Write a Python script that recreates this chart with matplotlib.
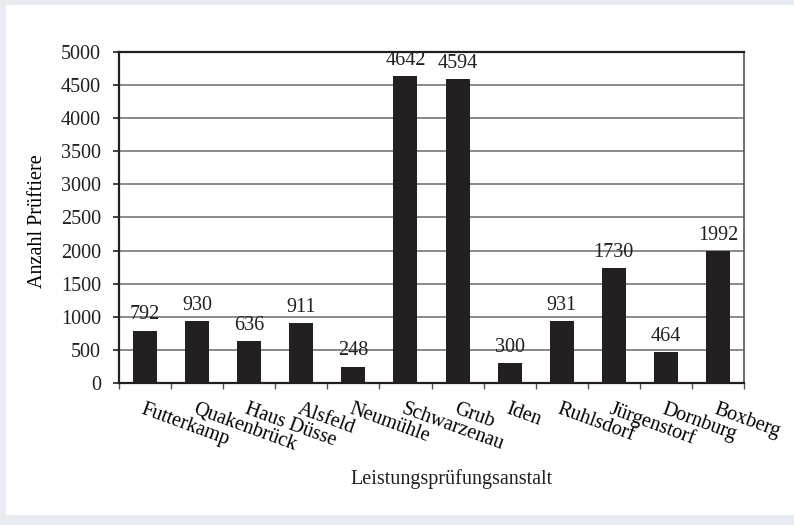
import matplotlib.pyplot as plt
from matplotlib.patches import Rectangle

stations = ['Futterkamp', 'Quakenbrück', 'Haus Düsse', 'Alsfeld', 'Neumühle',
            'Schwarzenau', 'Grub', 'Iden', 'Ruhlsdorf', 'Jürgenstorf',
            'Dornburg', 'Boxberg']
counts = [792, 930, 636, 911, 248, 4642, 4594, 300, 931, 1730, 464, 1992]
yticks = [0, 500, 1000, 1500, 2000, 2500, 3000, 3500, 4000, 4500, 5000]

FS = 14.5
plt.rcParams['font.family'] = ['Liberation Serif', 'DejaVu Serif']
plt.rcParams['font.size'] = FS
plt.rcParams['text.color'] = '#231f20'

fig = plt.figure(figsize=(7.94, 5.25), dpi=100)
fig.patch.set_facecolor('#e8ecf0')
# white panel inside the grey frame
fig.patches.append(Rectangle((6 / 794, 10 / 525), 1, 1 - 15 / 525,
                             transform=fig.transFigure, facecolor='white',
                             edgecolor='none', zorder=-10))

ax = fig.add_axes([119 / 794, 1 - 383 / 525, 625 / 794, 331 / 525])
ax.set_facecolor('white')

x = list(range(len(stations)))
bars = ax.bar(x, counts, width=0.46, color='#231f20', zorder=3)

for xi, v in zip(x, counts):
    ax.annotate(str(v), (xi, v), xytext=(0, 8), textcoords='offset points',
                ha='center', va='baseline', fontsize=FS, color='#231f20')

ax.set_xlim(-0.5, len(stations) - 0.5)
ax.set_ylim(0, 5000)
ax.set_yticks(yticks)
ax.yaxis.grid(True, color='#808080', linewidth=1.3, zorder=0)
ax.set_axisbelow(True)

ax.set_xticks(x)
ax.set_xticklabels(stations, rotation=-20, ha='left', rotation_mode='anchor',
                   va='top')
ax.tick_params(axis='x', which='major', length=0, pad=12)
ax.set_xticks([i - 0.5 for i in range(len(stations) + 1)], minor=True)
ax.tick_params(axis='x', which='minor', length=4, width=1, color='#555555',
               direction='out')
ax.tick_params(axis='y', length=4.5, width=1.2, color='#231f20', pad=8.5,
               labelcolor='#231f20')

for s in ['top', 'left', 'bottom']:
    ax.spines[s].set_linewidth(1.6)
    ax.spines[s].set_color('#231f20')
ax.spines['right'].set_linewidth(1.2)
ax.spines['right'].set_color('#555555')

ax.set_ylabel('Anzahl Prüftiere', fontsize=FS)
ax.yaxis.set_label_coords((47 - 119) / 625, 0.49)
fig.text(452 / 794, 1 - 479 / 525, 'Leistungsprüfungsanstalt', ha='center',
         va='center', fontsize=FS, color='#231f20')

fig.savefig('out.png', dpi=100, facecolor=fig.get_facecolor())
